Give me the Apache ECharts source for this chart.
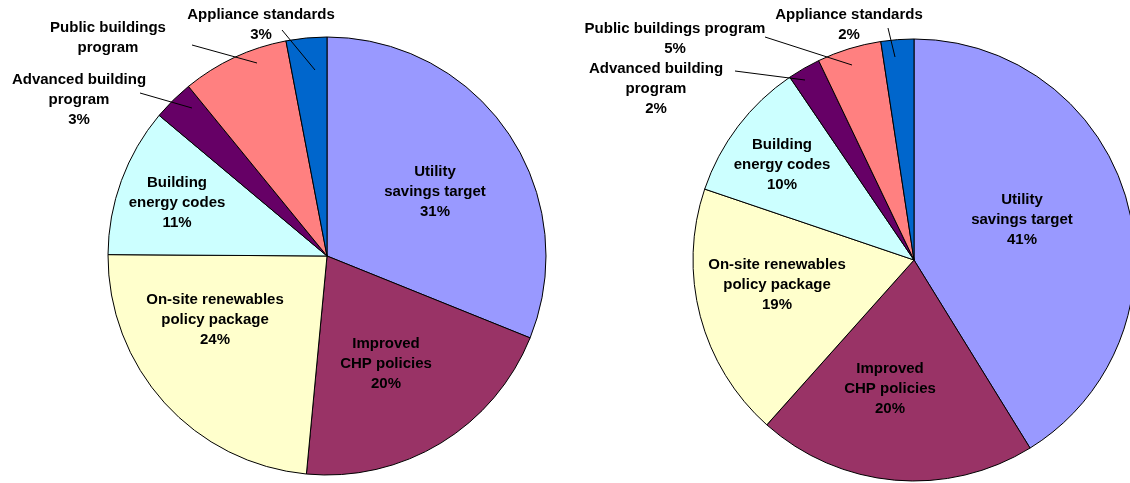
<!DOCTYPE html>
<html>
<head>
<meta charset="utf-8">
<script src="https://cdn.jsdelivr.net/npm/echarts@6/dist/echarts.min.js"></script>
<style>
  html, body { margin: 0; padding: 0; background: #fff; }
  #chart { width: 1130px; height: 483px; }
</style>
</head>
<body>
<div id="chart"></div>
<script>
// ---- data ----
const categories = ['Utility savings target', 'Improved CHP policies', 'On-site renewables policy package',
  'Building energy codes', 'Advanced building program', 'Public buildings program', 'Appliance standards'];
const leftValues = [31.1, 20.4, 23.6, 11.0, 3.0, 7.9, 3.0];
const rightValues = [41.2, 20.4, 18.6, 10.3, 2.4, 4.7, 2.4];
const leftLabelNames = ['Utility\nsavings target', 'Improved\nCHP policies', 'On-site renewables\npolicy package',
  'Building\nenergy codes', 'Advanced building\nprogram', 'Public buildings\nprogram', 'Appliance standards'];
const rightLabelNames = ['Utility\nsavings target', 'Improved\nCHP policies', 'On-site renewables\npolicy package',
  'Building\nenergy codes', 'Advanced building\nprogram', 'Public buildings program', 'Appliance standards'];
const leftShowPercent = [true, true, true, true, true, false, true];
const rightShowPercent = [true, true, true, true, true, true, true];
const colors = ['#9999FF', '#993366', '#FFFFCC', '#CCFFFF', '#660066', '#FF8080', '#0066CC'];

// ---- label placement (layout, not data) ----
const leftLabelPos = [[435, 192], [386, 364], [215, 320], [177, 203], [79, 100], [108, 38], [261, 25]];
const rightLabelPos = [[1022, 220], [890, 389], [777, 285], [782, 165], [656, 89], [675, 39], [849, 25]];
const leaderLines = [
  [[192, 108], [140, 93]], [[257, 63], [192, 45]], [[315, 70], [282, 30]],
  [[805, 80], [735, 71]], [[852, 65], [765, 37]], [[895, 57], [888, 28]]
];

const textStyle = {
  fontFamily: '"Liberation Sans", Arial, sans-serif',
  fontWeight: 'bold',
  fontSize: 15,
  lineHeight: 20,
  color: '#000',
  align: 'center',
  verticalAlign: 'middle'
};

function buildData(values, names, showPct) {
  return values.map((v, i) => ({
    name: categories[i],
    value: v,
    itemStyle: { color: colors[i] },
    label: Object.assign({
      show: true,
      position: 'inside',
      formatter: names[i] + (showPct[i] ? '\n' + Math.round(v) + '%' : '')
    }, textStyle),
    labelLine: { show: false }
  }));
}

function makeLayout(pos) {
  return function (params) {
    const i = params.dataIndex;
    return { x: pos[i][0], y: pos[i][1], align: 'center', verticalAlign: 'middle' };
  };
}

const chart = echarts.init(document.getElementById('chart'), null, { renderer: 'canvas' });
const baseSeries = {
  type: 'pie',
  startAngle: 90,
  clockwise: true,
  avoidLabelOverlap: false,
  silent: true,
  animation: false,
  emphasis: { disabled: true },
  itemStyle: { borderColor: '#000', borderWidth: 1 }
};
chart.setOption({
  animation: false,
  backgroundColor: '#fff',
  graphic: leaderLines.map(pts => ({
    type: 'polyline',
    z: 100,
    silent: true,
    shape: { points: pts },
    style: { stroke: '#000', lineWidth: 1, fill: null }
  })),
  series: [
    Object.assign({}, baseSeries, {
      center: [327, 256],
      radius: 219,
      data: buildData(leftValues, leftLabelNames, leftShowPercent),
      labelLayout: makeLayout(leftLabelPos)
    }),
    Object.assign({}, baseSeries, {
      center: [914, 260],
      radius: 221,
      data: buildData(rightValues, rightLabelNames, rightShowPercent),
      labelLayout: makeLayout(rightLabelPos)
    })
  ]
});
</script>
</body>
</html>
